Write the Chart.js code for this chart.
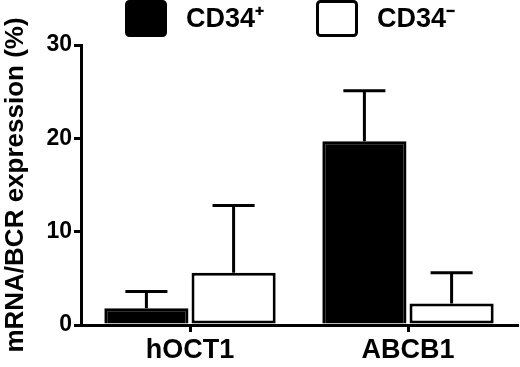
<!DOCTYPE html>
<html>
<head>
<meta charset="utf-8">
<script src="https://cdn.jsdelivr.net/npm/chart.js@4"></script>
<style>
  html, body { margin: 0; padding: 0; background: #fff; }
  #wrap { width: 520px; height: 367px; }
</style>
</head>
<body>
<div id="wrap"><canvas id="c" width="520" height="367"></canvas></div>
<script>
// valores (media + SD hacia arriba)
const genes = ['hOCT1', 'ABCB1'];
const cd34Pos = [1.8, 19.7];
const cd34PosErr = [1.8, 5.4];
const cd34Neg = [5.6, 2.3];
const cd34NegErr = [7.2, 3.3];
const yTicks = [0, 10, 20, 30];

const FONT = '"Liberation Sans", Arial, sans-serif';

// barras de error: solo hacia arriba, con tope de media barra
const errorBars = {
  id: 'errorBars',
  afterDatasetsDraw(chart) {
    const { ctx } = chart;
    const y = chart.scales.y;
    ctx.save();
    ctx.strokeStyle = '#000';
    ctx.lineWidth = 3;
    chart.data.datasets.forEach((ds, i) => {
      const meta = chart.getDatasetMeta(i);
      meta.data.forEach((bar, j) => {
        const top = y.getPixelForValue(ds.data[j] + ds.err[j]);
        const half = bar.width / 4;
        ctx.beginPath();
        ctx.moveTo(bar.x, bar.y);
        ctx.lineTo(bar.x, top);
        ctx.moveTo(bar.x - half, top);
        ctx.lineTo(bar.x + half, top);
        ctx.stroke();
      });
    });
    ctx.restore();
  },
};

// leyenda arriba, desplazada a la derecha como en la figura
const topLegend = {
  id: 'topLegend',
  afterDraw(chart, args, opts) {
    const { ctx } = chart;
    ctx.save();
    ctx.font = `bold ${opts.fontSize}px ${FONT}`;
    ctx.textBaseline = 'middle';
    ctx.fillStyle = '#000';
    chart.data.datasets.forEach((ds, i) => {
      const x = opts.starts[i];
      ctx.fillStyle = ds.backgroundColor;
      ctx.strokeStyle = ds.borderColor;
      ctx.lineWidth = 3;
      ctx.beginPath();
      ctx.roundRect(x + 1.5, opts.top + 1.5, opts.box - 3, opts.boxH - 3, 3);
      ctx.fill();
      ctx.stroke();
      ctx.fillStyle = '#000';
      ctx.fillText(ds.label, x + opts.box + opts.gap, opts.top + opts.boxH / 2 + 1);
    });
    ctx.restore();
  },
};

new Chart(document.getElementById('c'), {
  type: 'bar',
  data: {
    labels: genes,
    datasets: [
      {
        label: 'CD34⁺', data: cd34Pos, err: cd34PosErr,
        backgroundColor: '#000', borderColor: '#000', borderWidth: 3,
        categoryPercentage: 0.8, barPercentage: 0.965,
      },
      {
        label: 'CD34⁻', data: cd34Neg, err: cd34NegErr,
        backgroundColor: '#fff', borderColor: '#000', borderWidth: 3,
        borderSkipped: false,
        categoryPercentage: 0.8, barPercentage: 0.965,
      },
    ],
  },
  options: {
    responsive: false, animation: false,
    layout: { padding: { left: 0, right: 3, top: 45, bottom: 0 } },
    plugins: {
      legend: { display: false },
      tooltip: { enabled: false },
      topLegend: { starts: [125, 316], top: 0, box: 42, boxH: 37, gap: 19, fontSize: 27 },
    },
    scales: {
      x: {
        grid: { display: true, drawOnChartArea: false, offset: false, color: '#000', lineWidth: 3, tickLength: 7 },
        border: { color: '#000', width: 3 },
        ticks: { color: '#000', padding: 2, font: { family: FONT, size: 27, weight: 'bold' } },
        afterFit: (s) => { s.height = 42; },
      },
      y: {
        min: 0, max: 30,
        afterBuildTicks: (s) => { s.ticks = yTicks.map(v => ({ value: v })); },
        grid: { display: true, drawOnChartArea: false, color: '#000', lineWidth: 3, tickLength: 7 },
        border: { color: '#000', width: 3 },
        ticks: { color: '#000', padding: 2, font: { family: FONT, size: 23, weight: 'bold' } },
        title: {
          display: true, text: 'mRNA/BCR expression (%)', color: '#000',
          padding: { top: 0, bottom: 0 },
          font: { family: FONT, size: 26, weight: 'bold' },
        },
        afterFit: (s) => { s.width = 81; },
      },
    },
  },
  plugins: [errorBars, topLegend],
});
</script>
</body>
</html>
